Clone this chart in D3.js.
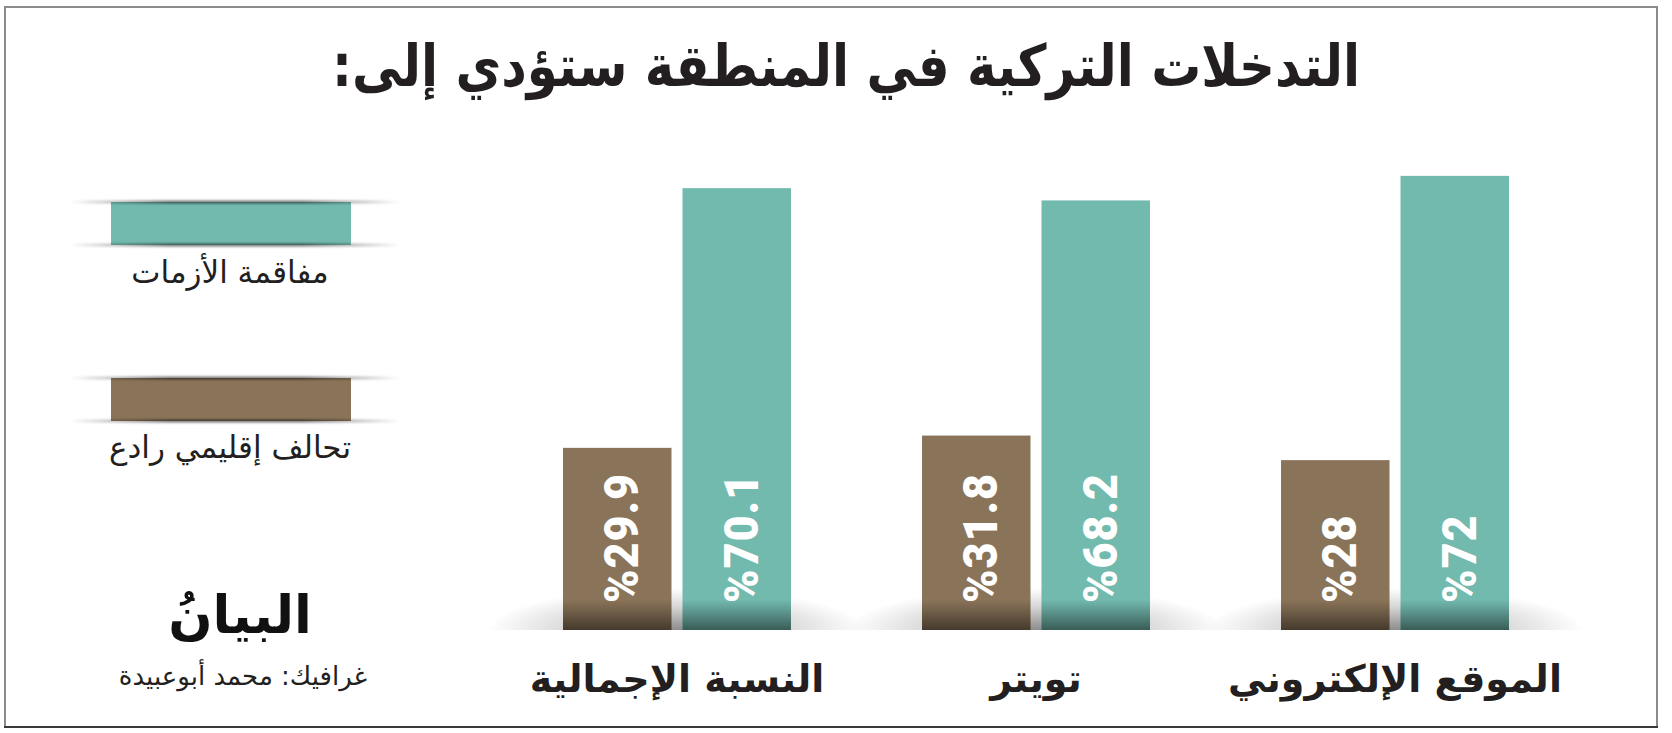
<!DOCTYPE html>
<html lang="ar">
<head>
<meta charset="utf-8">
<script src="https://cdn.jsdelivr.net/npm/d3@7"></script>
<style>
  html, body { margin: 0; padding: 0; background: #fff; }
  svg { display: block; }
  .ar { font-family: "DejaVu Sans", sans-serif; direction: rtl; unicode-bidi: embed; }
</style>
</head>
<body>
<svg id="chart" width="1672" height="733"></svg>
<script>
// data, in reading order (right to left)
var categories = ["الموقع الإلكتروني", "تويتر", "النسبة الإجمالية"];
var escalation = [72, 68.2, 70.1];   // مفاقمة الأزمات
var deterrence = [28, 31.8, 29.9];   // تحالف إقليمي رادع
var seriesKeys = ["deterrence", "escalation"];
var seriesNames = ["تحالف إقليمي رادع", "مفاقمة الأزمات"];
var seriesColors = ["#8a7459", "#72b9ae"];
var titleText = "التدخلات التركية في المنطقة ستؤدي إلى:";
var logoText = "البيانُ";
var creditText = "غرافيك: محمد أبوعبيدة";

var W = 1672, H = 733;
var baseY = 630;
var ink = "#231f20";

var rows = categories.map(function(c, i) {
  return { cat: c, deterrence: deterrence[i], escalation: escalation[i] };
});

var svg = d3.select("#chart");
var defs = svg.append("defs");

// soft shadow at the foot of each group
var rg = defs.append("radialGradient").attr("id", "baseShadow");
rg.append("stop").attr("offset", "0%").attr("stop-color", "#000").attr("stop-opacity", 0.45);
rg.append("stop").attr("offset", "55%").attr("stop-color", "#000").attr("stop-opacity", 0.16);
rg.append("stop").attr("offset", "100%").attr("stop-color", "#000").attr("stop-opacity", 0);

// darkening at the bottom of each bar
var lg = defs.append("linearGradient").attr("id", "barShade")
  .attr("x1", 0).attr("y1", 0).attr("x2", 0).attr("y2", 1);
lg.append("stop").attr("offset", "0%").attr("stop-color", "#000").attr("stop-opacity", 0);
lg.append("stop").attr("offset", "100%").attr("stop-color", "#000").attr("stop-opacity", 0.5);

// legend ribbon lines
var hl = defs.append("linearGradient").attr("id", "ribbon");
hl.append("stop").attr("offset", "0%").attr("stop-color", "#000").attr("stop-opacity", 0);
hl.append("stop").attr("offset", "30%").attr("stop-color", "#000").attr("stop-opacity", 0.55);
hl.append("stop").attr("offset", "70%").attr("stop-color", "#000").attr("stop-opacity", 0.55);
hl.append("stop").attr("offset", "100%").attr("stop-color", "#000").attr("stop-opacity", 0);
defs.append("filter").attr("id", "soft").attr("x", "-10%").attr("y", "-200%").attr("width", "120%").attr("height", "500%")
  .append("feGaussianBlur").attr("stdDeviation", 1);

defs.append("clipPath").attr("id", "aboveBase")
  .append("rect").attr("x", 0).attr("y", 0).attr("width", W).attr("height", baseY);

// frame
svg.append("rect").attr("x", 5).attr("y", 7).attr("width", 1652).attr("height", 720)
  .attr("fill", "#fff").attr("stroke", "#8c8c8c").attr("stroke-width", 2);
svg.append("line").attr("x1", 4).attr("x2", 1658).attr("y1", 727).attr("y2", 727)
  .attr("stroke", "#3a3a3a").attr("stroke-width", 2);

// title - condensed a bit to mimic the narrow headline face
svg.append("g").attr("transform", "translate(846,86) scale(0.86,1)")
  .append("text").attr("class", "ar")
  .attr("x", 0).attr("y", 0)
  .attr("text-anchor", "middle")
  .attr("font-size", 58).attr("font-weight", "bold")
  .attr("fill", ink)
  .text(titleText);

// scales
var x0 = d3.scaleBand()
  .domain(categories.slice().reverse())
  .range([563, 1509])
  .paddingInner(0.365)
  .paddingOuter(0);

var x1 = d3.scaleBand()
  .domain(seriesKeys)
  .range([0, x0.bandwidth()])
  .paddingInner(0.092);

var y = d3.scaleLinear().domain([0, 100]).range([641, -5]);

var color = d3.scaleOrdinal().domain(seriesKeys).range(seriesColors);

// base shadows
svg.append("g").attr("clip-path", "url(#aboveBase)")
  .selectAll("ellipse").data(rows).join("ellipse")
  .attr("cx", function(d) { return x0(d.cat) + x0.bandwidth() / 2; })
  .attr("cy", baseY)
  .attr("rx", x0.bandwidth() / 2 + 75)
  .attr("ry", 42)
  .attr("fill", "url(#baseShadow)");

// bars
var groups = svg.append("g").selectAll("g").data(rows).join("g")
  .attr("transform", function(d) { return "translate(" + x0(d.cat) + ",0)"; });

var bars = groups.selectAll("g").data(function(d) {
  return seriesKeys.map(function(k) { return { key: k, value: d[k] }; });
}).join("g");

bars.append("rect")
  .attr("x", function(d) { return x1(d.key); })
  .attr("y", function(d) { return y(d.value); })
  .attr("width", x1.bandwidth())
  .attr("height", function(d) { return baseY - y(d.value); })
  .attr("fill", function(d) { return color(d.key); });

bars.append("rect")
  .attr("x", function(d) { return x1(d.key); })
  .attr("y", baseY - 30)
  .attr("width", x1.bandwidth())
  .attr("height", 30)
  .attr("fill", "url(#barShade)");

// value labels, rotated and slightly condensed along their length
bars.append("text")
  .attr("transform", function(d) {
    return "translate(" + (x1(d.key) + x1.bandwidth() / 2 + 21) + "," + 603 + ") rotate(-90) scale(0.92,1)";
  })
  .attr("font-family", "Roboto, 'DejaVu Sans', sans-serif")
  .attr("font-weight", 900)
  .attr("font-size", 49)
  .attr("letter-spacing", 1)
  .attr("fill", "#fff")
  .text(function(d) { return "%" + d.value; });

// category labels
svg.append("g").selectAll("text").data(rows).join("text")
  .attr("class", "ar")
  .attr("x", function(d) { return x0(d.cat) + x0.bandwidth() / 2; })
  .attr("y", 692)
  .attr("text-anchor", "middle")
  .attr("font-size", 38)
  .attr("font-weight", "bold")
  .attr("fill", ink)
  .text(function(d) { return d.cat; });

// legend (teal on top, brown below)
var legendRows = [
  { name: seriesNames[1], color: seriesColors[1], top: 202, labelY: 283 },
  { name: seriesNames[0], color: seriesColors[0], top: 378, labelY: 458 }
];
var lgd = svg.append("g").selectAll("g").data(legendRows).join("g");
lgd.append("rect")
  .attr("x", 111).attr("y", function(d) { return d.top; })
  .attr("width", 240).attr("height", 43)
  .attr("fill", function(d) { return d.color; });
[0, 43].forEach(function(off) {
  lgd.append("rect")
    .attr("x", 70).attr("y", function(d) { return d.top + off - 1.5; })
    .attr("width", 330).attr("height", 3)
    .attr("fill", "url(#ribbon)")
    .attr("filter", "url(#soft)");
});
lgd.append("text")
  .attr("class", "ar")
  .attr("x", 230).attr("y", function(d) { return d.labelY; })
  .attr("text-anchor", "middle")
  .attr("font-size", 31)
  .attr("fill", ink)
  .text(function(d) { return d.name; });

// logo and credit
svg.append("text").attr("class", "ar")
  .attr("x", 240).attr("y", 633)
  .attr("text-anchor", "middle")
  .attr("font-size", 52).attr("font-weight", "bold")
  .attr("fill", "#111")
  .text(logoText);

svg.append("text").attr("class", "ar")
  .attr("x", 243).attr("y", 685)
  .attr("text-anchor", "middle")
  .attr("font-size", 26)
  .attr("fill", ink)
  .text(creditText);
</script>
</body>
</html>
